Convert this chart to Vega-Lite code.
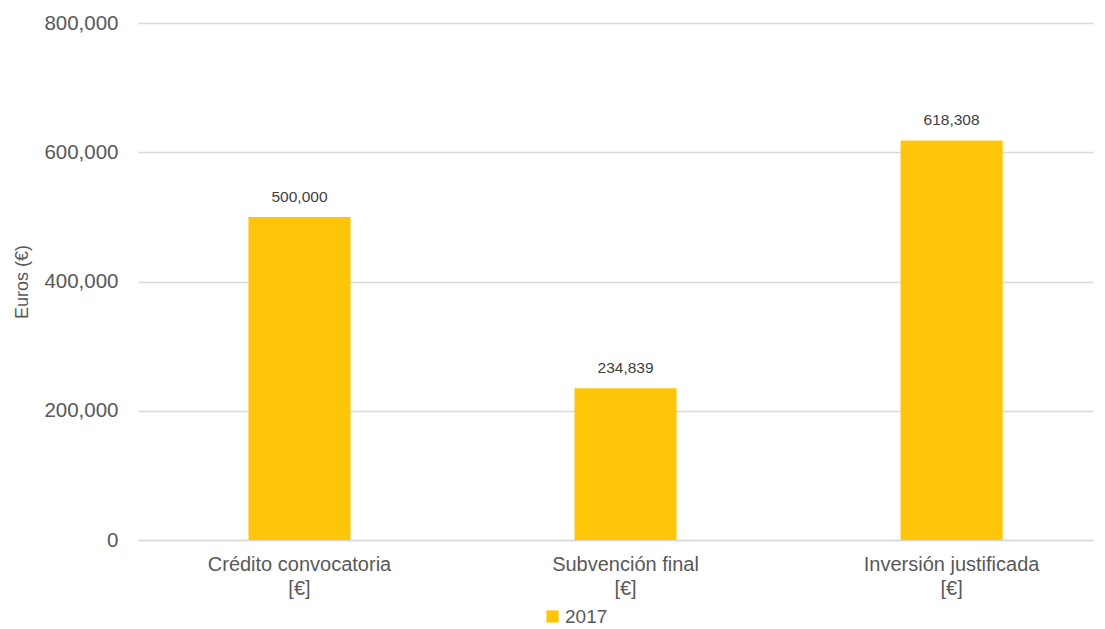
{
  "$schema": "https://vega.github.io/schema/vega-lite/v6.json",
  "autosize": "none",
  "width": 955,
  "height": 517,
  "padding": {"left": 138, "top": 23, "right": 12, "bottom": 89},
  "background": "white",
  "config": {
    "font": "Liberation Sans",
    "view": {"stroke": null}
  },
  "data": {
    "values": [
      {"categoria": "Crédito convocatoria|[€]", "orden": 1, "serie": "2017", "euros": 500000},
      {"categoria": "Subvención final|[€]", "orden": 2, "serie": "2017", "euros": 234839},
      {"categoria": "Inversión justificada|[€]", "orden": 3, "serie": "2017", "euros": 618308}
    ]
  },
  "encoding": {
    "x": {
      "field": "categoria",
      "type": "nominal",
      "sort": {"field": "orden"},
      "scale": {"paddingInner": 0.687, "paddingOuter": 0.308, "align": 0.55},
      "axis": {
        "title": null,
        "labelAngle": 0,
        "labelExpr": "split(datum.label, '|')",
        "labelFontSize": 20,
        "labelLineHeight": 24,
        "labelLimit": 400,
        "labelColor": "#595959",
        "labelPadding": 14,
        "ticks": false,
        "domainColor": "#d9d9d9",
        "domainWidth": 1.5
      }
    },
    "y": {
      "field": "euros",
      "type": "quantitative",
      "scale": {"domain": [0, 800000]},
      "axis": {
        "title": "Euros (€)",
        "titleFontSize": 18,
        "titleFontWeight": "normal",
        "titleColor": "#595959",
        "titlePadding": 12,
        "values": [0, 200000, 400000, 600000, 800000],
        "format": ",.0f",
        "labelFontSize": 20.5,
        "labelColor": "#595959",
        "labelPadding": 20,
        "ticks": false,
        "domain": false,
        "gridColor": "#d9d9d9",
        "gridWidth": 1.5
      }
    }
  },
  "layer": [
    {
      "mark": {"type": "bar", "color": "#FFC508"},
      "encoding": {
        "color": {
          "field": "serie",
          "type": "nominal",
          "scale": {"range": ["#FFC508"]},
          "legend": {
            "title": null,
            "orient": "none",
            "legendX": 405,
            "legendY": 584,
            "symbolType": "square",
            "symbolSize": 150,
            "symbolStrokeWidth": 0,
            "labelFontSize": 19,
            "labelColor": "#595959",
            "labelOffset": 3
          }
        }
      }
    },
    {
      "mark": {"type": "text", "dy": -20, "fontSize": 15.5, "color": "#404040"},
      "encoding": {
        "text": {"field": "euros", "type": "quantitative", "format": ",.0f"}
      }
    }
  ]
}
